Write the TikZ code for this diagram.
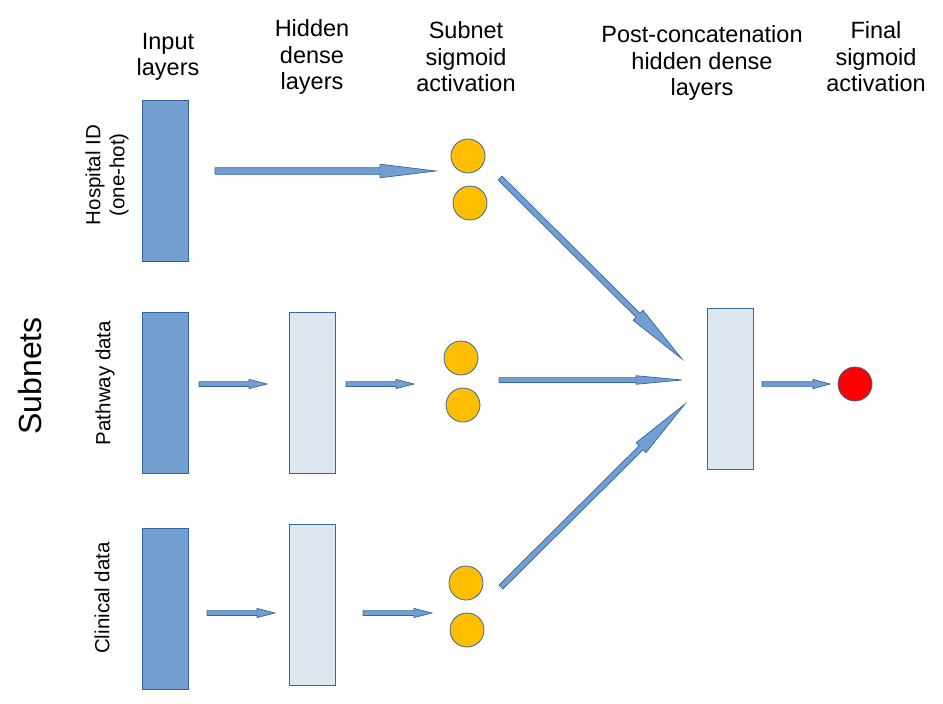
\documentclass[tikz,border=0pt]{standalone}
\usepackage{fontspec}
\setmainfont{Liberation Sans}
\usetikzlibrary{calc}
\definecolor{abl}{HTML}{729FCF}
\definecolor{abd}{HTML}{3465A4}
\definecolor{hid}{HTML}{DEE6EF}
\definecolor{sig}{HTML}{FFBF00}
\tikzset{
  inlayer/.style={draw=abd, line width=0.8pt, fill=abl, minimum width=46pt, minimum height=161pt, inner sep=0pt},
  hidlayer/.style={draw=abd, line width=0.8pt, fill=hid, minimum width=46pt, minimum height=161pt, inner sep=0pt},
  neuron/.style={circle, draw=abd, line width=0.8pt, fill=sig, minimum size=34pt, inner sep=0pt},
  outneuron/.style={circle, draw=abd, line width=0.8pt, fill=red, minimum size=34pt, inner sep=0pt},
  header/.style={align=center, font=\fontsize{23.5}{26.5}\selectfont, inner sep=0pt},
  sidelabel/.style={align=center, rotate=90, font=\fontsize{20.5}{24}\selectfont, inner sep=0pt},
  blkarrow/.style n args={3}{draw=abd, fill=abl, line width=0.7pt, line join=miter,
    to path={
      ($(\tikztostart)!#1!90:(\tikztotarget)$)
      -- ($(\tikztotarget)!#3!(\tikztostart)!#1!90:(\tikztotarget)$)
      -- ($(\tikztotarget)!#3!(\tikztostart)!#2!90:(\tikztotarget)$)
      -- (\tikztotarget)
      -- ($(\tikztotarget)!#3!(\tikztostart)!#2!-90:(\tikztotarget)$)
      -- ($(\tikztotarget)!#3!(\tikztostart)!#1!-90:(\tikztotarget)$)
      -- ($(\tikztostart)!#1!-90:(\tikztotarget)$) -- cycle}},
}
\begin{document}
\begin{tikzpicture}[x=1pt,y=-1pt]
\useasboundingbox (0,0) rectangle (943,704);

% headers
\node[header] (hIn) at (168,57) {Input\\layers};
\node[header] (hHid) at (312,57) {Hidden\\dense\\layers};
\node[header] (hSub) at (466,57) {Subnet\\sigmoid\\activation};
\node[header] (hPost) at (702,63) {Post-concatenation\\hidden dense\\layers};
\node[header] (hFin) at (876,57) {Final\\sigmoid\\activation};

% side labels
\node[sidelabel, font=\fontsize{32}{36}\selectfont] (lSub) at (30,376) {Subnets};
\node[sidelabel] (lHos) at (107,175) {Hospital ID\\(one-hot)};
\node[sidelabel] (lPath) at (105,383) {Pathway data};
\node[sidelabel] (lClin) at (102,598) {Clinical data};

% layers
\node[inlayer] (in1) at (165,181) {};
\node[inlayer] (in2) at (165,392.5) {};
\node[inlayer] (in3) at (165,608.5) {};
\node[hidlayer] (hd2) at (312,393) {};
\node[hidlayer] (hd3) at (312,604.5) {};
\node[hidlayer] (post) at (730,388.5) {};

% neurons
\node[neuron] (s1a) at (468,156) {};
\node[neuron] (s1b) at (470,203) {};
\node[neuron] (s2a) at (461,358) {};
\node[neuron] (s2b) at (463,405) {};
\node[neuron] (s3a) at (466,583) {};
\node[neuron] (s3b) at (467,630) {};
\node[outneuron] (fin) at (855,384) {};

% arrow end points
\coordinate (h1s) at (215,171); \coordinate (h1e) at (436,171);
\coordinate (p1s) at (199,384); \coordinate (p1e) at (267,384);
\coordinate (p2s) at (346,384); \coordinate (p2e) at (414,384);
\coordinate (c1s) at (207,613); \coordinate (c1e) at (275,613);
\coordinate (c2s) at (363,613); \coordinate (c2e) at (432,613);
\coordinate (d1s) at (500,178); \coordinate (d1e) at (682,359);
\coordinate (m1s) at (499,380); \coordinate (m1e) at (682,380);
\coordinate (d2s) at (501,587); \coordinate (d2e) at (685,404);
\coordinate (f1s) at (762,384); \coordinate (f1e) at (830,384);

% arrows
\draw[blkarrow={3.3pt}{6.8pt}{56pt}] (h1s) to (h1e);
\draw[blkarrow={2.4pt}{4.6pt}{18pt}] (p1s) to (p1e);
\draw[blkarrow={2.4pt}{4.6pt}{18pt}] (p2s) to (p2e);
\draw[blkarrow={2.4pt}{4.6pt}{18pt}] (c1s) to (c1e);
\draw[blkarrow={2.4pt}{4.6pt}{18pt}] (c2s) to (c2e);
\draw[blkarrow={2.4pt}{4.3pt}{46pt}] (m1s) to (m1e);
\draw[blkarrow={2.8pt}{7pt}{62pt}] (d1s) to (d1e);
\draw[blkarrow={2.8pt}{7pt}{62pt}] (d2s) to (d2e);
\draw[blkarrow={2.3pt}{4.6pt}{17pt}] (f1s) to (f1e);
\end{tikzpicture}
\end{document}
